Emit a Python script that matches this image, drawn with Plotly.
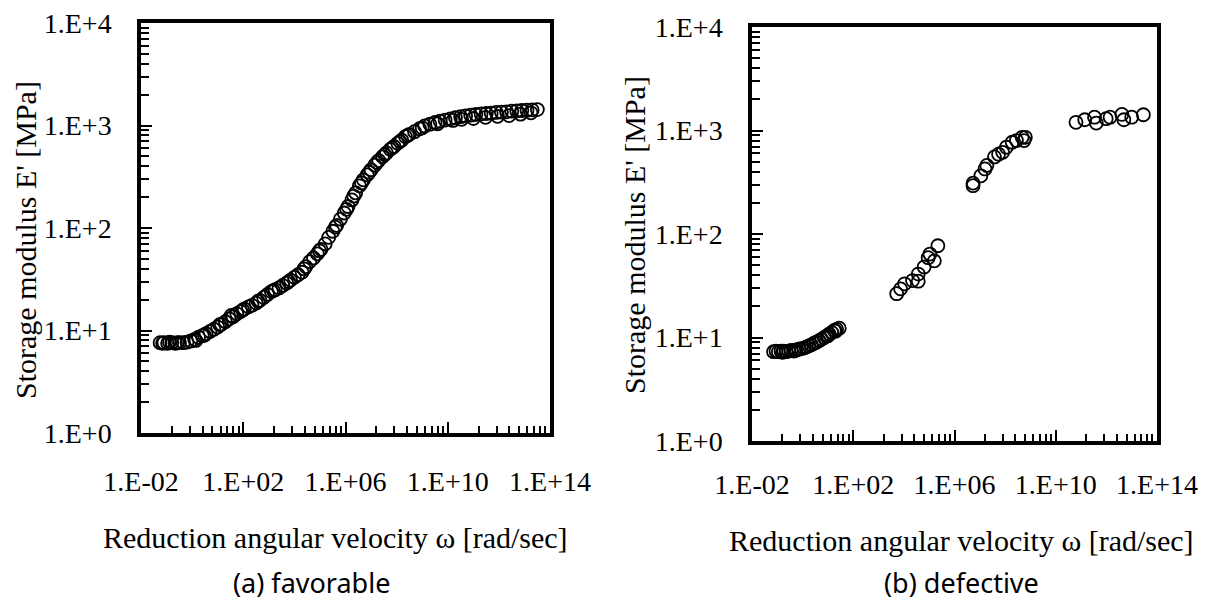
import math
import plotly.graph_objects as go

# ---------------- data ----------------
# (a) favorable : reduced angular velocity [rad/sec] and storage modulus E' [MPa]
fav_omega = [
    5.6e-2, 7.9e-2, 1.1e-1, 1.6e-1, 2.2e-1, 3.2e-1, 4.5e-1, 6.3e-1, 8.9e-1, 1.26e0,
    1.78e0, 2.5e0, 3.5e0, 5.0e0, 7.1e0, 1.0e1, 1.4e1, 2.0e1, 2.8e1, 4.0e1,
    5.6e1, 7.9e1, 1.1e2, 1.6e2, 2.2e2, 3.2e2, 4.5e2, 6.3e2, 8.9e2, 1.26e3,
    1.78e3, 2.5e3, 3.5e3, 5.0e3, 7.1e3, 1.0e4, 1.4e4, 2.0e4, 2.8e4, 4.0e4,
    5.6e4, 7.9e4, 1.1e5, 1.6e5, 2.2e5, 3.2e5, 4.5e5, 6.3e5, 8.9e5, 1.26e6,
    1.78e6, 2.5e6, 3.5e6, 5.0e6, 7.1e6, 1.0e7, 1.4e7, 2.0e7, 2.8e7, 4.0e7,
    5.6e7, 7.9e7, 1.1e8, 1.6e8, 2.2e8, 3.2e8, 5.0e8, 7.9e8, 1.26e9, 2.0e9,
    3.2e9, 5.0e9, 7.9e9, 1.26e10, 2.0e10, 3.2e10, 5.0e10, 7.9e10, 1.26e11, 2.0e11,
    3.2e11, 5.0e11, 7.9e11, 1.26e12, 2.0e12, 3.2e12, 5.0e12, 7.9e12, 1.26e13, 2.0e13,
    3.2e13,
    # overlapping segments
    7.0e-2, 1.3e-1, 2.6e-1, 1.4e0, 3.0e0, 1.2e1, 3.4e1, 9.5e1, 3.8e2, 1.5e3,
    6.0e3, 2.4e4, 9.5e4, 4.0e5, 1.1e6, 2.1e6, 4.2e6, 8.5e6, 1.7e7, 3.4e7,
    6.8e7, 1.35e8, 2.7e8, 1.0e9, 4.0e9, 1.6e10, 3.5e10, 1.0e11, 3.0e11, 8.9e11,
    2.5e12, 7.0e12, 1.8e13,
]
fav_modulus = [
    7.6, 7.6, 7.5, 7.6, 7.5, 7.6, 7.6, 7.7, 7.9, 8.2,
    8.6, 8.9, 9.3, 9.8, 10.3, 10.8, 11.5, 12.2, 13.0, 13.6,
    14.6, 15.3, 16.2, 17.0, 17.6, 18.5, 19.7, 21.0, 22.5, 24.0,
    25.0, 26.0, 27.5, 29.0, 31.0, 33.0, 35.0, 37.0, 42.0, 47.0,
    51.0, 56.0, 62.0, 70.0, 81.0, 93.0, 106.0, 122.0, 140.0, 162.0,
    188.0, 220.0, 258.0, 295.0, 330.0, 370.0, 410.0, 455.0, 495.0, 540.0,
    585.0, 625.0, 670.0, 720.0, 780.0, 820.0, 870.0, 930.0, 990.0, 1030.0,
    1070.0, 1100.0, 1130.0, 1160.0, 1190.0, 1220.0, 1240.0, 1260.0, 1280.0, 1300.0,
    1310.0, 1320.0, 1340.0, 1350.0, 1360.0, 1380.0, 1390.0, 1400.0, 1410.0, 1420.0,
    1430.0,
    7.5, 7.7, 7.6, 8.0, 9.0, 11.4, 14.0, 15.8, 19.3, 24.5,
    30.0, 40.0, 60.0, 102.0, 152.0, 205.0, 275.0, 350.0, 435.0, 520.0,
    605.0, 700.0, 800.0, 950.0, 1040.0, 1120.0, 1150.0, 1170.0, 1200.0, 1230.0,
    1250.0, 1290.0, 1330.0,
]

# (b) defective : four separate groups of points
def_omega = [
    7.1e-2, 8.9e-2, 1.1e-1, 1.4e-1, 1.8e-1, 2.2e-1, 2.8e-1, 3.5e-1, 4.5e-1, 5.6e-1,
    7.1e-1, 8.9e-1, 1.12e0, 1.41e0, 1.78e0, 2.2e0, 2.8e0, 3.5e0, 4.5e0, 5.6e0,
    7.1e0, 8.9e0, 1.12e1, 1.41e1, 1.78e1, 2.2e1, 2.8e1, 2.0e1, 1.0e1, 1.6e-1, 5.0e-1,
    5.2e3, 7.4e3, 1.07e4, 2.2e4, 3.7e4, 3.7e4, 6.3e4, 9.1e4, 1.07e5, 2.2e5, 1.6e5,
    5.4e6, 5.4e6, 1.1e7, 1.6e7, 1.9e7, 3.8e7, 5.5e7, 8.0e7, 1.12e8, 1.9e8, 2.8e8, 4.7e8, 5.6e8, 6.3e8,
    6.3e10, 1.4e11, 3.4e11, 4.0e11, 9.8e11, 1.4e12, 4.1e12, 4.9e12, 1.0e13, 2.9e13,
]
def_modulus = [
    7.3, 7.4, 7.3, 7.4, 7.4, 7.3, 7.4, 7.5, 7.4, 7.6,
    7.7, 7.8, 7.9, 8.1, 8.3, 8.5, 8.8, 9.0, 9.3, 9.6,
    10.0, 10.3, 10.8, 11.2, 11.7, 12.0, 12.3, 11.5, 10.4, 7.2, 7.5,
    26.5, 29.5, 33.0, 35.5, 41.0, 35.0, 48.0, 59.0, 64.0, 77.0, 55.0,
    293.0, 310.0, 365.0, 425.0, 460.0, 555.0, 590.0, 615.0, 690.0, 770.0, 800.0, 860.0, 800.0, 860.0,
    1200.0, 1270.0, 1345.0, 1180.0, 1300.0, 1345.0, 1430.0, 1270.0, 1345.0, 1420.0,
]

x_tick_vals = [1e-2, 1e2, 1e6, 1e10, 1e14]
x_tick_text = ["1.E-02", "1.E+02", "1.E+06", "1.E+10", "1.E+14"]
y_tick_vals = [1, 10, 100, 1000, 10000]
y_tick_text = ["1.E+0", "1.E+1", "1.E+2", "1.E+3", "1.E+4"]

x_title = "Reduction angular velocity \u03c9 [rad/sec]"
y_title = "Storage modulus E' [MPa]"
captions = ["(a) favorable", "(b) defective"]

# ---------------- figure ----------------
W, H = 1214, 604
SERIF = "Liberation Serif, Times New Roman, serif"
FS = 28
FT = 30

# minor tick positions (styling)
x_minor = [10 ** (-2 + 4 * n) * k ** 4 for n in range(4) for k in range(2, 10)]
y_minor = [k * 10 ** n for n in range(4) for k in range(2, 10)]

fig = go.Figure()
marker = dict(symbol="circle-open", size=13, color="black", line=dict(width=1.8, color="black"))
fig.add_trace(go.Scatter(x=fav_omega, y=fav_modulus, mode="markers", marker=marker,
                         xaxis="x", yaxis="y", showlegend=False, cliponaxis=False))
fig.add_trace(go.Scatter(x=def_omega, y=def_modulus, mode="markers", marker=marker,
                         xaxis="x2", yaxis="y2", showlegend=False, cliponaxis=False))

# plot boxes in pixels: (left, right, top, bottom)
boxes = [(141, 550, 23, 433), (752, 1157, 27, 441)]
x_standoff = [21, 16]

def xaxis_cfg(i, anchor):
    b = boxes[i]
    return dict(type="log", range=[-2, 14], domain=[b[0] / W, b[1] / W], anchor=anchor,
                automargin=False,
                tickvals=x_tick_vals, ticktext=x_tick_text, ticks="inside", ticklen=11,
                tickwidth=2, tickcolor="black", showline=True, linewidth=3.5, linecolor="black",
                mirror=True, showgrid=False, zeroline=False, ticklabelstandoff=x_standoff[i],
                tickfont=dict(family=SERIF, size=FS, color="black"),
                minor=dict(tickvals=x_minor, ticks="inside", ticklen=7, tickwidth=2,
                           tickcolor="black", showgrid=False))

def yaxis_cfg(i, anchor):
    b = boxes[i]
    return dict(type="log", range=[0, 4], domain=[1 - b[3] / H, 1 - b[2] / H], anchor=anchor,
                automargin=False,
                tickvals=y_tick_vals, ticktext=y_tick_text, ticks="inside", ticklen=11,
                tickwidth=2, tickcolor="black", showline=True, linewidth=3.5, linecolor="black",
                mirror=True, showgrid=False, zeroline=False, ticklabelstandoff=20,
                tickfont=dict(family=SERIF, size=FS, color="black"),
                minor=dict(tickvals=y_minor, ticks="inside", ticklen=8, tickwidth=2,
                           tickcolor="black", showgrid=False))

fig.update_layout(
    width=W, height=H, margin=dict(l=0, r=0, t=0, b=0, autoexpand=False),
    paper_bgcolor="white", plot_bgcolor="white",
    xaxis=xaxis_cfg(0, "y"), yaxis=yaxis_cfg(0, "x"),
    xaxis2=xaxis_cfg(1, "y2"), yaxis2=yaxis_cfg(1, "x2"),
)

# axis titles and captions (pixel positions -> paper)
xt_pos = [(335, 537), (961, 540)]
yt_pos = [(25, 240), (634, 235)]
cap_x = [311, 961]
for i in range(2):
    fig.add_annotation(text=x_title, x=xt_pos[i][0] / W, y=1 - xt_pos[i][1] / H,
                       xref="paper", yref="paper", showarrow=False, xanchor="center", yanchor="middle",
                       font=dict(family=SERIF, size=FT, color="black"))
    fig.add_annotation(text=y_title, x=yt_pos[i][0] / W, y=1 - yt_pos[i][1] / H, textangle=-90,
                       xref="paper", yref="paper", showarrow=False, xanchor="center", yanchor="middle",
                       font=dict(family=SERIF, size=FT, color="black"))
    fig.add_annotation(text=captions[i], x=cap_x[i] / W, y=2 / H,
                       xref="paper", yref="paper", showarrow=False, xanchor="center", yanchor="bottom",
                       borderpad=0,
                       font=dict(family="Noto Sans, sans-serif", size=27, color="black"))

fig.write_html("out.html", config={"displayModeBar": False},
               post_script="document.body.style.margin='0px';")
